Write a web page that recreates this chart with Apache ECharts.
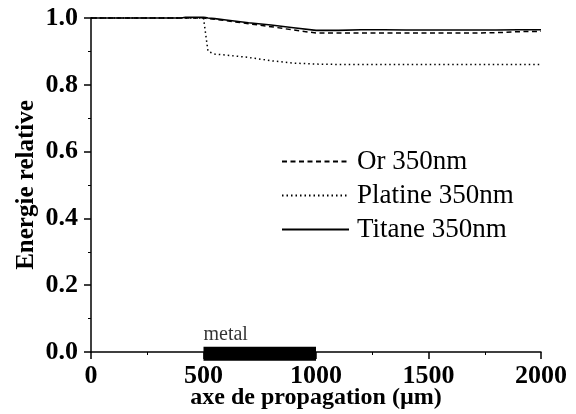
<!DOCTYPE html>
<html>
<head>
<meta charset="utf-8">
<script src="https://cdn.jsdelivr.net/npm/echarts@6/dist/echarts.min.js"></script>
<style>html,body{margin:0;padding:0;background:#fff;}#c{width:576px;height:414px;}</style>
</head>
<body>
<div id="c"></div>
<script>
const xPositions = [0, 200, 400, 420, 500, 510, 520, 550, 600, 700, 800, 900, 1000, 1100, 1200, 1300, 1400, 1500, 1600, 1700, 1800, 1900, 2000];
const orValues =      [1.0, 1.0, 1.0, 1.0, 1.0, 0.999, 0.998, 0.996, 0.992, 0.983, 0.974, 0.964, 0.955, 0.955, 0.955, 0.955, 0.955, 0.955, 0.955, 0.955, 0.956, 0.959, 0.960];
const platineValues = [1.0, 1.0, 1.0, 1.0, 1.0, 0.95, 0.90, 0.892, 0.889, 0.882, 0.872, 0.865, 0.862, 0.861, 0.861, 0.861, 0.861, 0.861, 0.861, 0.861, 0.861, 0.861, 0.861];
const titaneValues =  [1.0, 1.0, 1.0, 1.002, 1.002, 1.001, 1.0, 0.998, 0.994, 0.986, 0.979, 0.971, 0.963, 0.963, 0.965, 0.965, 0.964, 0.964, 0.964, 0.964, 0.964, 0.965, 0.965];
const seriesNames = ['Or 350nm', 'Platine 350nm', 'Titane 350nm'];
const metalRange = [500, 1000];
const metalLevel = -0.005;
const metalLabel = 'metal';
const xTicks = [0, 500, 1000, 1500, 2000];
const yTicks = [0.0, 0.2, 0.4, 0.6, 0.8, 1.0];

const pair = vals => xPositions.map((x, i) => [x, vals[i]]);
const serif = 'Liberation Serif';

const chart = echarts.init(document.getElementById('c'), null, {renderer: 'canvas'});
chart.setOption({
  animation: false,
  backgroundColor: '#fff',
  grid: {left: 91, right: 35, top: 18, bottom: 62, containLabel: false, outerBoundsMode: 'none'},
  legend: {
    data: seriesNames,
    orient: 'vertical',
    left: 281, top: 148, padding: 0,
    itemWidth: 67, itemHeight: 27, itemGap: 7,
    itemStyle: {opacity: 0},
    textStyle: {fontFamily: serif, fontSize: 27, color: '#000', padding: [0, 0, 0, 3]}
  },
  xAxis: {
    type: 'value', min: xTicks[0], max: xTicks[xTicks.length - 1], interval: 500,
    name: 'axe de propagation (µm)', nameLocation: 'middle', nameGap: 34, nameMoveOverlap: false,
    nameTextStyle: {fontFamily: serif, fontWeight: 'bold', fontSize: 24, color: '#000'},
    axisLine: {onZero: false, lineStyle: {color: '#000', width: 1.5}},
    axisTick: {inside: false, length: 7, lineStyle: {color: '#000', width: 1.5}},
    minorTick: {show: true, splitNumber: 2, length: 3, lineStyle: {color: '#000', width: 1}},
    axisLabel: {margin: 11, fontFamily: serif, fontWeight: 'bold', fontSize: 26, color: '#000',
      formatter: v => String(v)},
    splitLine: {show: false}
  },
  yAxis: {
    type: 'value', min: yTicks[0], max: yTicks[yTicks.length - 1], interval: 0.2,
    name: 'Energie relative', nameLocation: 'middle', nameGap: 52, nameMoveOverlap: false,
    nameTextStyle: {fontFamily: serif, fontWeight: 'bold', fontSize: 25, color: '#000'},
    axisLine: {show: true, lineStyle: {color: '#000', width: 1.5}},
    axisTick: {show: true, inside: false, length: 7, lineStyle: {color: '#000', width: 1.5}},
    minorTick: {show: true, splitNumber: 2, length: 3, lineStyle: {color: '#000', width: 1}},
    axisLabel: {margin: 13, fontFamily: serif, fontWeight: 'bold', fontSize: 26, color: '#000',
      formatter: v => v.toFixed(1)},
    splitLine: {show: false}
  },
  series: [
    {name: seriesNames[0], type: 'line', data: pair(orValues), symbol: 'none', clip: false,
      lineStyle: {color: '#000', width: 1.5, type: [5, 3.5]}, itemStyle: {color: '#000'}},
    {name: seriesNames[1], type: 'line', data: pair(platineValues), symbol: 'none', clip: false,
      lineStyle: {color: '#000', width: 1.5, type: [1.5, 3]}, itemStyle: {color: '#000'}},
    {name: seriesNames[2], type: 'line', data: pair(titaneValues), symbol: 'none', clip: false,
      lineStyle: {color: '#000', width: 1.6, type: 'solid'}, itemStyle: {color: '#000'}},
    {name: 'metalBar', type: 'line', data: metalRange.map(x => [x, metalLevel]), symbol: 'none', clip: false,
      lineStyle: {color: '#000', width: 14, cap: 'butt'}, z: 1},
    {name: 'metalText', type: 'scatter', data: [[metalRange[0], metalLevel]], symbolSize: 0, clip: false,
      label: {show: true, formatter: metalLabel, position: 'top', align: 'left', offset: [0, -4],
        fontFamily: serif, fontSize: 20, color: '#000'}}
  ]
});
</script>
</body>
</html>
